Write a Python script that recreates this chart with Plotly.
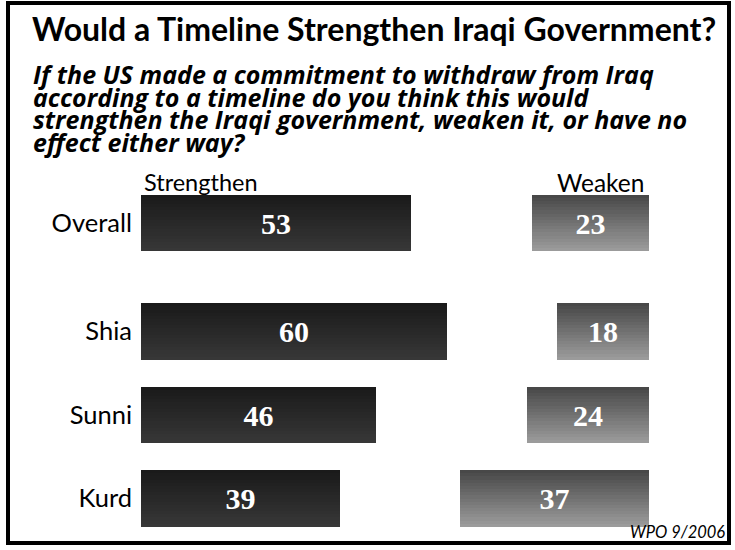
import plotly.graph_objects as go

# ---------------- data ----------------
categories = ["Overall", "Shia", "Sunni", "Kurd"]
strengthen = [53, 60, 46, 39]
weaken = [23, 18, 24, 37]
series_names = ["Strengthen", "Weaken"]
title_text = "Would a Timeline Strengthen Iraqi Government?"
subtitle_lines = [
    "If the US made a commitment to withdraw from Iraq",
    "according to a timeline do you think this would",
    "strengthen the Iraqi government, weaken it, or have no",
    "effect either way?",
]
source_text = "WPO 9/2006"

# ---------------- layout constants ----------------
W, H = 735, 550
ML, MR, MT, MB = 141, 35, 160, 10
PW, PH = W - ML - MR, H - MT - MB
ROW_POS = [0, 1.3, 2.3, 3.3]      # row centres (row units)
ROW_PX = 83.5                      # pixels per row unit
BAR_W = 0.68                       # bar thickness (row units)
PX_PER_UNIT = 5.1                  # pixels per percentage point
XMAX = PW / PX_PER_UNIT
WEAKEN_END = (649 - ML) / PX_PER_UNIT
Y_TOP = -(223 - MT) / ROW_PX
Y_BOT = Y_TOP + PH / ROW_PX
N_STRIPS = 18

LABEL_FONT = "Lato, 'Open Sans', sans-serif"
SUB_FONT = "'Open Sans', Lato, sans-serif"


def px_x(px):
    return (px - ML) / PW


def px_y(py):
    return (H - MB - py) / PH


def lerp(c0, c1, t):
    return "rgb(%d,%d,%d)" % tuple(round(a + (b - a) * t) for a, b in zip(c0, c1))


fig = go.Figure()

weaken_base = [WEAKEN_END - v for v in weaken]
series = [
    (strengthen, [0] * len(strengthen), (26, 26, 26), (55, 55, 55)),
    (weaken, weaken_base, (72, 72, 72), (155, 155, 155)),
]

for vals, base, c_top, c_bot in series:
    for k in range(N_STRIPS):
        t = k / (N_STRIPS - 1)
        frac = k / N_STRIPS
        fig.add_trace(go.Bar(
            y=ROW_POS, x=vals, base=base, orientation="h",
            offset=-BAR_W / 2 + frac * BAR_W,
            width=BAR_W * (1 - frac),
            marker=dict(color=lerp(c_top, c_bot, t), line=dict(width=0)),
            hoverinfo="skip", showlegend=False,
        ))
    fig.add_trace(go.Bar(
        y=ROW_POS, x=vals, base=base, orientation="h",
        offset=-BAR_W / 2, width=BAR_W,
        marker=dict(color="rgba(0,0,0,0)", line=dict(width=0)),
        text=[str(v) for v in vals], textposition="inside",
        insidetextanchor="middle", textangle=0,
        textfont=dict(family="'Liberation Serif', serif", size=30,
                      color="white", weight="bold"),
        hoverinfo="skip", showlegend=False,
    ))

# column headers
fig.add_annotation(text=series_names[0], xref="x", x=0, xanchor="left", xshift=1,
                   yref="paper", y=px_y(182), yanchor="middle", showarrow=False,
                   font=dict(family=LABEL_FONT, size=23.5, color="black"))
fig.add_annotation(text=series_names[1], xref="x", x=WEAKEN_END, xanchor="right", xshift=-3,
                   yref="paper", y=px_y(182), yanchor="middle", showarrow=False,
                   font=dict(family=LABEL_FONT, size=24.5, color="black"))

# subtitle lines
SUB_Y0, SUB_DY = 74, 22.7
for i, line in enumerate(subtitle_lines):
    fig.add_annotation(text=line, xref="paper", x=px_x(31), xanchor="left",
                       yref="paper", y=px_y(SUB_Y0 + i * SUB_DY), yanchor="middle",
                       showarrow=False,
                       font=dict(family=SUB_FONT, size=25, color="black",
                                 weight="bold", style="italic"))

# source
fig.add_annotation(text=source_text, xref="paper", x=px_x(727), xanchor="right",
                   yref="paper", y=px_y(532), yanchor="middle", showarrow=False,
                   font=dict(family=LABEL_FONT, size=16.5, color="black", style="italic"))

# frame
fig.add_shape(type="rect", xref="paper", yref="paper",
              x0=px_x(8), x1=px_x(729), y0=px_y(543), y1=px_y(3),
              line=dict(color="black", width=4), fillcolor="rgba(0,0,0,0)", layer="above")

fig.update_layout(
    width=W, height=H, autosize=False,
    margin=dict(l=ML, r=MR, t=MT, b=MB, pad=0),
    paper_bgcolor="white", plot_bgcolor="white",
    barmode="overlay", bargap=0,
    title=dict(text="<b>%s</b>" % title_text, xref="container", x=32 / W, xanchor="left",
               yref="container", y=1 - 30 / H, yanchor="middle",
               font=dict(family=LABEL_FONT, size=32, color="black")),
    xaxis=dict(range=[0, XMAX], visible=False, fixedrange=True),
    yaxis=dict(range=[Y_BOT, Y_TOP], tickvals=ROW_POS, ticktext=categories,
               showgrid=False, zeroline=False, showline=False, ticks="",
               ticklabelstandoff=8, fixedrange=True,
               tickfont=dict(family=LABEL_FONT, size=25.5, color="black")),
)

fig.write_html(
    "out.html",
    config={"displayModeBar": False},
    post_script="document.body.style.margin='0';document.body.style.padding='0';"
                "document.body.style.overflow='hidden';",
)
